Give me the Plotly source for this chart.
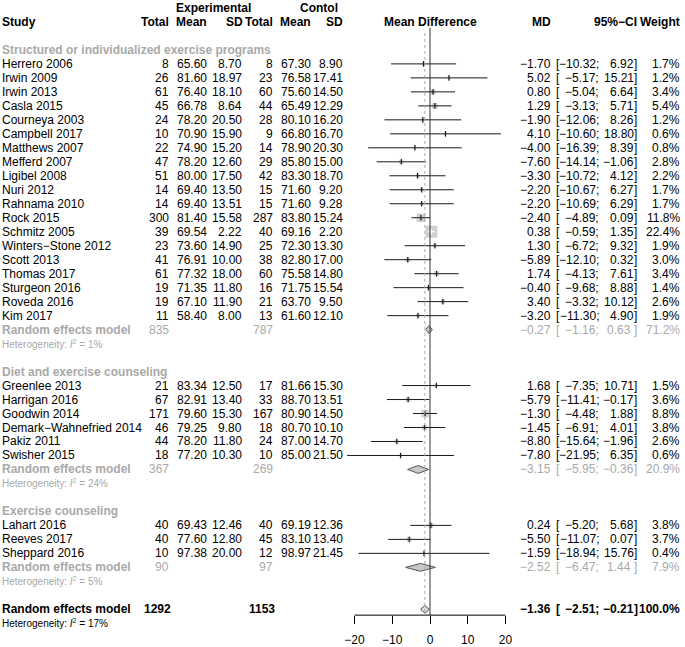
import plotly.graph_objects as go

W, H = 685, 647
FONT = "Liberation Sans, Arial, Helvetica, sans-serif"
GREY = "#a9a9a9"

# ---------------- data ----------------
group_names = ["Structured or individualized exercise programs",
               "Diet and exercise counseling",
               "Exercise counseling"]

studies = [
    ["Herrero 2006", "Irwin 2009", "Irwin 2013", "Casla 2015", "Courneya 2003",
     "Campbell 2017", "Matthews 2007", "Mefferd 2007", "Ligibel 2008", "Nuri 2012",
     "Rahnama 2010", "Rock 2015", "Schmitz 2005", "Winters\u2212Stone 2012",
     "Scott 2013", "Thomas 2017", "Sturgeon 2016", "Roveda 2016", "Kim 2017"],
    ["Greenlee 2013", "Harrigan 2016", "Goodwin 2014", "Demark\u2212Wahnefried 2014",
     "Pakiz 2011", "Swisher 2015"],
    ["Lahart 2016", "Reeves 2017", "Sheppard 2016"],
]
exp_total = [[8, 26, 61, 45, 24, 10, 22, 47, 51, 14, 14, 300, 39, 23, 41, 61, 19, 19, 11],
             [21, 67, 171, 46, 44, 18],
             [40, 40, 10]]
exp_mean = [[65.60, 81.60, 76.40, 66.78, 78.20, 70.90, 74.90, 78.20, 80.00, 69.40, 69.40,
             81.40, 69.54, 73.60, 76.91, 77.32, 71.35, 67.10, 58.40],
            [83.34, 82.91, 79.60, 79.25, 78.20, 77.20],
            [69.43, 77.60, 97.38]]
exp_sd = [[8.70, 18.97, 18.10, 8.64, 20.50, 15.90, 15.20, 12.60, 17.50, 13.50, 13.51,
           15.58, 2.22, 14.90, 10.00, 18.00, 11.80, 11.90, 8.00],
          [12.50, 13.40, 15.30, 9.80, 11.80, 10.30],
          [12.46, 12.80, 20.00]]
ctl_total = [[8, 23, 60, 44, 28, 9, 14, 29, 42, 15, 15, 287, 40, 25, 38, 60, 16, 21, 13],
             [17, 33, 167, 18, 24, 10],
             [40, 45, 12]]
ctl_mean = [[67.30, 76.58, 75.60, 65.49, 80.10, 66.80, 78.90, 85.80, 83.30, 71.60, 71.60,
             83.80, 69.16, 72.30, 82.80, 75.58, 71.75, 63.70, 61.60],
            [81.66, 88.70, 80.90, 80.70, 87.00, 85.00],
            [69.19, 83.10, 98.97]]
ctl_sd = [[8.90, 17.41, 14.50, 12.29, 16.20, 16.70, 20.30, 15.00, 18.70, 9.20, 9.28,
           15.24, 2.20, 13.30, 17.00, 14.80, 15.54, 9.50, 12.10],
          [15.30, 13.51, 14.50, 10.10, 14.70, 21.50],
          [12.36, 13.40, 21.45]]
md = [[-1.70, 5.02, 0.80, 1.29, -1.90, 4.10, -4.00, -7.60, -3.30, -2.20, -2.20, -2.40,
       0.38, 1.30, -5.89, 1.74, -0.40, 3.40, -3.20],
      [1.68, -5.79, -1.30, -1.45, -8.80, -7.80],
      [0.24, -5.50, -1.59]]
ci_lo = [[-10.32, -5.17, -5.04, -3.13, -12.06, -10.60, -16.39, -14.14, -10.72, -10.67,
          -10.69, -4.89, -0.59, -6.72, -12.10, -4.13, -9.68, -3.32, -11.30],
         [-7.35, -11.41, -4.48, -6.91, -15.64, -21.95],
         [-5.20, -11.07, -18.94]]
ci_hi = [[6.92, 15.21, 6.64, 5.71, 8.26, 18.80, 8.39, -1.06, 4.12, 6.27, 6.29, 0.09,
          1.35, 9.32, 0.32, 7.61, 8.88, 10.12, 4.90],
         [10.71, -0.17, 1.88, 4.01, -1.96, 6.35],
         [5.68, 0.07, 15.76]]
weight = [[1.7, 1.2, 3.4, 5.4, 1.2, 0.6, 0.8, 2.8, 2.2, 1.7, 1.7, 11.8, 22.4, 1.9, 3.0,
           3.4, 1.4, 2.6, 1.9],
          [1.5, 3.6, 8.8, 3.8, 2.6, 0.6],
          [3.8, 3.7, 0.4]]

# subgroup random-effects summaries
sub_exp_total = [835, 367, 90]
sub_ctl_total = [787, 269, 97]
sub_md = [-0.27, -3.15, -2.52]
sub_lo = [-1.16, -5.95, -6.47]
sub_hi = [0.63, -0.36, 1.44]
sub_weight = [71.2, 20.9, 7.9]
sub_i2 = [1, 24, 5]

# overall
all_exp_total, all_ctl_total = 1292, 1153
all_md, all_lo, all_hi, all_weight, all_i2 = -1.36, -2.51, -0.21, 100.0, 17

x_ticks = [-20, -10, 0, 10, 20]

# ---------------- layout helpers ----------------
ROW0, STEP = 8.0, 14.05
AX_PX = 618.0
X_LEFT_PX, X_RIGHT_PX = 344.7, 511.5
X_RANGE = [-23, 21]

def ypx(row):
    return ROW0 + STEP * row

def ypaper(row):
    return 1 - ypx(row) / H

def fmt(v):
    return f"{v:.2f}".replace("-", "\u2212")

ann = []

def txt(s, xpx, row, anchor="right", bold=False, color="black", size=12):
    if bold:
        s = f"<b>{s}</b>"
    ann.append(dict(text=s, x=xpx / W, y=ypaper(row), xref="paper", yref="paper",
                    xanchor=anchor, yanchor="middle", showarrow=False,
                    borderpad=0, borderwidth=0,
                    font=dict(family=FONT, size=size, color=color)))

# column right edges (px)
C_STUDY = 2
C_ET, C_EM, C_ES = 170, 208, 243
C_CT, C_CM, C_CS = 274, 312, 345
C_MD = 553
C_BR_L, C_LO, C_HI, C_W = 558, 601.8, 636.7, 683

def ci_text(row, lo, hi, md_v, w, bold=False, color="black", pad=False):
    txt(fmt(md_v), C_MD, row, bold=bold, color=color)
    txt("[", C_BR_L, row, anchor="left", bold=bold, color=color)
    txt(fmt(lo) + ";", C_LO, row, bold=bold, color=color)
    txt(fmt(hi) + (" " if pad else ""), C_HI, row, bold=bold, color=color)
    txt("]", C_HI, row, anchor="left", bold=bold, color=color)
    txt(f"{w:.1f}%", C_W, row, bold=bold, color=color)

# headers
txt("Experimental", 214, 0, anchor="center", bold=True)
txt("Contol", 320, 0, anchor="center", bold=True)
txt("Study", C_STUDY, 1, anchor="left", bold=True)
for lab, xp in [("Total", C_ET), ("Mean", C_EM), ("SD", C_ES + 1),
                ("Total", C_CT), ("Mean", C_CM), ("SD", C_CS)]:
    txt(lab, xp, 1, bold=True)
txt("Mean Difference", 432, 1, anchor="center", bold=True)
txt("MD", C_MD, 1, bold=True)
txt("95%\u2212CI", C_HI + 3.3, 1, bold=True)
txt("Weight", C_W, 1, bold=True)

# rows
box_x, box_y, box_s = [], [], []
line_dark_x, line_dark_y = [], []
line_white_x, line_white_y = [], []
tick_dark_x, tick_dark_y, tick_white_x, tick_white_y = [], [], [], []
diamonds = []
px_per_unit = (X_RIGHT_PX - X_LEFT_PX) / (X_RANGE[1] - X_RANGE[0])

row = 3
for g in range(3):
    txt(group_names[g], C_STUDY, row, anchor="left", bold=True, color=GREY)
    row += 1
    for i, name in enumerate(studies[g]):
        txt(name, C_STUDY, row, anchor="left")
        txt(str(exp_total[g][i]), C_ET, row)
        txt(f"{exp_mean[g][i]:.2f}", C_EM, row)
        txt(f"{exp_sd[g][i]:.2f}", C_ES, row)
        txt(str(ctl_total[g][i]), C_CT, row)
        txt(f"{ctl_mean[g][i]:.2f}", C_CM, row)
        txt(f"{ctl_sd[g][i]:.2f}", C_CS, row)
        ci_text(row, ci_lo[g][i], ci_hi[g][i], md[g][i], weight[g][i])
        side = max(12 * (weight[g][i] / 22.4) ** 0.5, 2.5)
        box_x.append(md[g][i]); box_y.append(row); box_s.append(side)
        inside = (ci_hi[g][i] - ci_lo[g][i]) * px_per_unit < side
        if inside:
            line_white_x += [ci_lo[g][i], ci_hi[g][i], None]
            line_white_y += [row, row, None]
            tick_white_x.append(md[g][i]); tick_white_y.append(row)
        else:
            line_dark_x += [ci_lo[g][i], ci_hi[g][i], None]
            line_dark_y += [row, row, None]
            tick_dark_x.append(md[g][i]); tick_dark_y.append(row)
        row += 1
    # subgroup random effects
    txt("Random effects model", C_STUDY, row, anchor="left", bold=True, color=GREY)
    txt(str(sub_exp_total[g]), C_ET, row, color=GREY)
    txt(str(sub_ctl_total[g]), C_CT, row, color=GREY)
    ci_text(row, sub_lo[g], sub_hi[g], sub_md[g], sub_weight[g], color=GREY, pad=(g != 1))
    diamonds.append((sub_lo[g], sub_md[g], sub_hi[g], row, "#c8c8c8"))
    row += 1
    txt(f"Heterogeneity: <i>I</i><sup>2</sup> = {sub_i2[g]}%", C_STUDY, row,
        anchor="left", color=GREY, size=10)
    row += 2

# overall
txt("Random effects model", C_STUDY, row, anchor="left", bold=True)
txt(str(all_exp_total), C_ET + 2, row, bold=True)
txt(str(all_ctl_total), C_CT + 2, row, bold=True)
ci_text(row, all_lo, all_hi, all_md, all_weight, bold=True)
diamonds.append((all_lo, all_md, all_hi, row, "#dcdcdc"))
txt(f"Heterogeneity: <i>I</i><sup>2</sup> = {all_i2}%", C_STUDY, row + 1,
    anchor="left", size=10)

# ---------------- figure ----------------
fig = go.Figure()

y_bottom_row = (AX_PX - ROW0) / STEP
y_top_row = -ROW0 / STEP
shapes = [
    dict(type="line", xref="x", yref="y", x0=0, x1=0, y0=1.42, y1=y_bottom_row,
         line=dict(color="#333333", width=1)),
    dict(type="line", xref="x", yref="y", x0=all_md, x1=all_md, y0=1.78, y1=y_bottom_row,
         line=dict(color="#aaaaaa", width=1, dash="dot")),
    dict(type="line", xref="x", yref="paper", x0=x_ticks[0], x1=x_ticks[-1],
         y0=1 - AX_PX / H, y1=1 - AX_PX / H, line=dict(color="black", width=1)),
]

fig.add_trace(go.Scatter(x=box_x, y=box_y, mode="markers", hoverinfo="skip",
                         marker=dict(symbol="square", size=box_s, color="#bdbdbd",
                                     line=dict(width=0))))
fig.add_trace(go.Scatter(x=line_dark_x, y=line_dark_y, mode="lines", hoverinfo="skip",
                         line=dict(color="#1a1a1a", width=1)))
fig.add_trace(go.Scatter(x=line_white_x, y=line_white_y, mode="lines", hoverinfo="skip",
                         line=dict(color="white", width=1)))
fig.add_trace(go.Scatter(x=tick_dark_x, y=tick_dark_y, mode="markers", hoverinfo="skip",
                         marker=dict(symbol="line-ns", size=4,
                                     line=dict(color="#1a1a1a", width=1.2))))
fig.add_trace(go.Scatter(x=tick_white_x, y=tick_white_y, mode="markers", hoverinfo="skip",
                         marker=dict(symbol="line-ns", size=4,
                                     line=dict(color="white", width=1.2))))

HH = 0.28
for lo, m, hi, r, col in diamonds:
    fig.add_trace(go.Scatter(x=[lo, m, hi, m, lo], y=[r, r - HH, r, r + HH, r],
                             mode="lines", fill="toself", fillcolor=col,
                             hoverinfo="skip", line=dict(color="#555555", width=1)))

fig.update_layout(
    width=W, height=H, margin=dict(l=0, r=0, t=0, b=0),
    paper_bgcolor="white", plot_bgcolor="white", showlegend=False,
    annotations=ann, shapes=shapes,
    xaxis=dict(domain=[X_LEFT_PX / W, X_RIGHT_PX / W], range=X_RANGE,
               tickvals=x_ticks, ticktext=[str(t).replace("-", "\u2212") for t in x_ticks],
               ticks="outside", ticklen=8, tickwidth=1, tickcolor="black",
               showline=False, showgrid=False, zeroline=False,
               ticklabelstandoff=5,
               tickfont=dict(family=FONT, size=12, color="black"), fixedrange=True),
    yaxis=dict(domain=[1 - AX_PX / H, 1], range=[y_bottom_row, y_top_row],
               visible=False, fixedrange=True),
)

fig.write_html("out.html", config={"displayModeBar": False},
               post_script="document.body.style.margin='0';"
                           "document.body.style.overflow='hidden';")
